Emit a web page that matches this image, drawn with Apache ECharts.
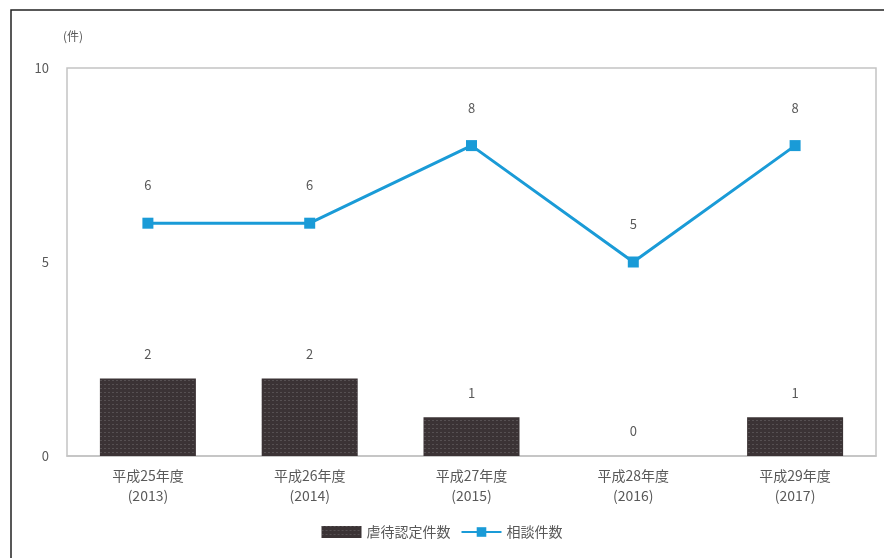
<!DOCTYPE html>
<html>
<head>
<meta charset="utf-8">
<script src="https://cdn.jsdelivr.net/npm/echarts@6/dist/echarts.min.js"></script>
<style>
  html, body { margin: 0; padding: 0; background: #fff; }
  #chart { width: 884px; height: 558px; }
</style>
</head>
<body>
<div id="chart"></div>
<script>
// Fiscal years (Heisei era with Western year)
const categories = [
  '平成25年度\n(2013)',
  '平成26年度\n(2014)',
  '平成27年度\n(2015)',
  '平成28年度\n(2016)',
  '平成29年度\n(2017)'
];
// 虐待認定件数 (confirmed abuse cases)
const abuseCases = [2, 2, 1, 0, 1];
// 相談件数 (consultations)
const consultations = [6, 6, 8, 5, 8];
const yTicks = [0, 5, 10];

const font = '"Noto Sans CJK JP", "Noto Sans", sans-serif';
const textColor = '#595959';

const chart = echarts.init(document.getElementById('chart'), null, { renderer: 'canvas' });
chart.setOption({
  animation: false,
  textStyle: { fontFamily: font },
  graphic: [
    {
      type: 'rect',
      shape: { x: 11, y: 10, width: 900, height: 600 },
      style: { fill: 'none', stroke: '#222', lineWidth: 1.5 }
    },
    {
      type: 'text',
      left: 63, top: 30,
      style: { text: '(件)', fill: textColor, font: '12px ' + font }
    }
  ],
  grid: {
    left: 67, right: 8, top: 68, bottom: 102,
    show: true, borderColor: '#c4c4c4', borderWidth: 1.5
  },
  legend: {
    bottom: 14,
    left: 'center',
    itemGap: 10,
    itemWidth: 40,
    itemHeight: 12,
    textStyle: { color: textColor, fontSize: 14, fontFamily: font },
    data: [
      { name: '虐待認定件数', icon: 'rect' },
      { name: '相談件数' }
    ]
  },
  xAxis: {
    type: 'category',
    data: categories,
    axisLine: { show: true, lineStyle: { color: '#c4c4c4', width: 1.5 } },
    axisTick: { show: false },
    axisLabel: { color: textColor, fontSize: 14, lineHeight: 20, margin: 10, fontFamily: font }
  },
  yAxis: {
    type: 'value',
    min: yTicks[0],
    max: yTicks[yTicks.length - 1],
    interval: yTicks[1] - yTicks[0],
    splitLine: { show: false },
    axisLine: { show: false },
    axisTick: { show: false },
    axisLabel: { color: textColor, fontSize: 13, margin: 18, fontFamily: font }
  },
  series: [
    {
      name: '虐待認定件数',
      type: 'bar',
      data: abuseCases,
      barWidth: 96,
      itemStyle: {
        color: '#3b3335',
        decal: {
          symbol: 'rect',
          symbolSize: 1,
          color: 'rgba(150,150,150,0.3)',
          dashArrayX: [2, 2],
          dashArrayY: [1, 3],
          rotation: 0
        }
      },
      label: {
        show: true, position: 'top', distance: 18,
        color: textColor, fontSize: 13, fontFamily: font
      }
    },
    {
      name: '相談件数',
      type: 'line',
      data: consultations,
      symbol: 'rect',
      symbolSize: 11,
      lineStyle: { color: '#1a9bd7', width: 3 },
      itemStyle: { color: '#1a9bd7' },
      label: {
        show: true, position: 'top', distance: 26,
        color: textColor, fontSize: 13, fontFamily: font
      }
    }
  ]
});
</script>
</body>
</html>
